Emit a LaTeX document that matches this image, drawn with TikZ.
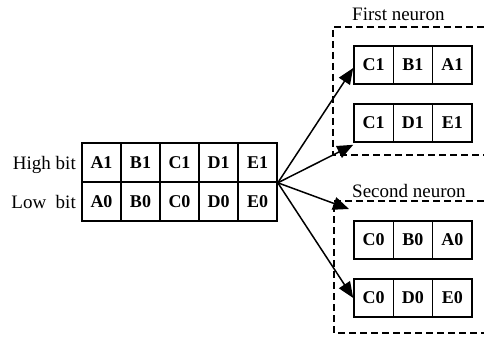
\documentclass[tikz,border=0pt]{standalone}
\usepackage{fontspec}
\setmainfont{Liberation Serif}
\usetikzlibrary{arrows.meta}
\tikzset{
  cellbox/.style={draw, line width=1.6pt, minimum width=39pt, minimum height=39pt, inner sep=0pt,
    font=\fontsize{18}{20}\selectfont\bfseries},
  subbox/.style={cellbox, minimum width=39.3pt, minimum height=38pt},
  lbl/.style={inner sep=0pt, font=\fontsize{19}{22}\selectfont},
  grp/.style={line width=1.5pt, dash pattern=on 7pt off 4pt},
  conn/.style={line width=1.5pt, -{Triangle[length=16pt,width=13pt]}}
}
\begin{document}
\begin{tikzpicture}[x=1pt,y=-1pt]
\useasboundingbox (0,0) rectangle (484,339);
% main table
\foreach \n/\c [count=\i from 0] in {A/A,B/B,C/C,D/D,E/E}{
  \node[cellbox] (\n1) at (101.5+39*\i,162.5) {\c1};
  \node[cellbox] (\n0) at (101.5+39*\i,201.5) {\c0};
}
\node[lbl, anchor=base east] (hb) at (76,169) {High bit};
\node[lbl, anchor=base east] (lb) at (76,208) {Low\ \ bit};
\coordinate (F) at (E1.south east);
% first neuron
\draw[grp] (484,27) -- (333,27) -- (333,155) -- (484,155);
\node[lbl, anchor=base west] (fn) at (352,21) {First neuron};
\node[subbox] (p1) at (373.65,65) {C1};
\node[subbox] (p2) at (412.95,65) {B1};
\node[subbox] (p3) at (452.25,65) {A1};
\node[subbox] (q1) at (373.65,123) {C1};
\node[subbox] (q2) at (412.95,123) {D1};
\node[subbox] (q3) at (452.25,123) {E1};
% second neuron
\draw[grp] (484,201) -- (334,201) -- (334,333) -- (484,333);
\node[lbl, anchor=base west] (sn) at (352,197) {Second neuron};
\node[subbox] (r1) at (373.65,240) {C0};
\node[subbox] (r2) at (412.95,240) {B0};
\node[subbox] (r3) at (452.25,240) {A0};
\node[subbox] (s1) at (373.65,298) {C0};
\node[subbox] (s2) at (412.95,298) {D0};
\node[subbox] (s3) at (452.25,298) {E0};
\coordinate (t3) at (349,209);
% connectors
\draw[conn] (F) -- ([yshift=-3pt]p1.west);
\draw[conn] (F) -- ([yshift=-2pt]q1.south west);
\draw[conn] (F) -- (t3);
\draw[conn] (F) -- (s1.west);
\end{tikzpicture}
\end{document}
